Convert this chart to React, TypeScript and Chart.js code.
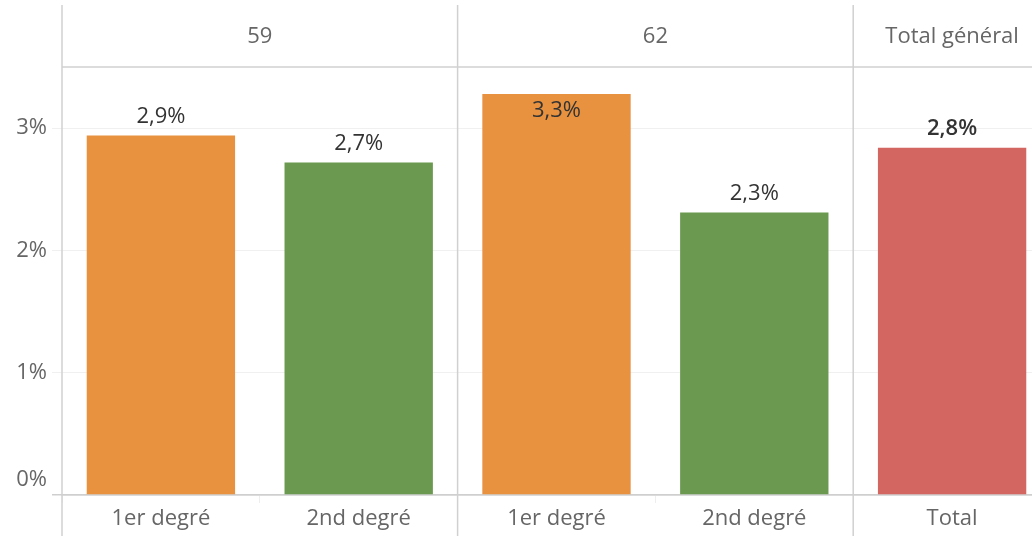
import React, { useEffect, useRef } from "react";
import { Chart, registerables } from "chart.js";

Chart.register(...registerables);

const categories = ["1er degré", "2nd degré", "1er degré", "2nd degré", "Total"];
const panels = ["59", "62", "Total général"];
const panelSizes = [2, 2, 1];
const values = [2.94, 2.72, 3.28, 2.31, 2.84];
const valueLabels = ["2,9%", "2,7%", "3,3%", "2,3%", "2,8%"];
const barColors = ["#E89240", "#6A994F", "#E89240", "#6A994F", "#D46661"];
const yTicks = [0, 1, 2, 3];
const yTickLabels = ["0%", "1%", "2%", "3%"];

const FONT = "'Open Sans', 'DejaVu Sans', sans-serif";
const FS = 22;

export default function App() {
  const ref = useRef<HTMLCanvasElement | null>(null);

  useEffect(() => {
    document.body.style.margin = "0";
    const canvas = ref.current;
    if (!canvas) return;

    const panelPlugin = {
      id: "panelPlugin",
      afterDraw(chart: any) {
        const { ctx, chartArea } = chart;
        const xs = chart.scales.x;
        const ys = chart.scales.y;
        const meta = chart.getDatasetMeta(0);
        const W = chart.width;
        const H = chart.height;
        const half = (xs.getPixelForValue(1) - xs.getPixelForValue(0)) / 2;
        ctx.save();
        // vertical axis line
        ctx.strokeStyle = "#d0d0d0";
        ctx.lineWidth = 1.5;
        ctx.beginPath();
        ctx.moveTo(chartArea.left, 5);
        ctx.lineTo(chartArea.left, H);
        ctx.stroke();
        // header bottom line
        ctx.beginPath();
        ctx.moveTo(chartArea.left, chartArea.top);
        ctx.lineTo(W, chartArea.top);
        ctx.stroke();
        // y tick labels
        ctx.font = `${FS}px ${FONT}`;
        ctx.fillStyle = "#666666";
        ctx.textAlign = "right";
        ctx.textBaseline = "middle";
        yTicks.forEach((v, i) => {
          let y = ys.getPixelForValue(v);
          if (v === 0) y -= 15;
          ctx.fillText(yTickLabels[i], chartArea.left - 15, y);
        });
        // panels
        let idx = 0;
        ctx.textAlign = "center";
        panels.forEach((p, i) => {
          const start = xs.getPixelForValue(idx) - half;
          const end = xs.getPixelForValue(idx + panelSizes[i] - 1) + half;
          ctx.fillText(p, (start + end) / 2, 37);
          if (i < panels.length - 1) {
            ctx.beginPath();
            ctx.moveTo(end, 5);
            ctx.lineTo(end, H);
            ctx.stroke();
          }
          idx += panelSizes[i];
        });
        // data labels
        ctx.fillStyle = "#333333";
        meta.data.forEach((bar: any, i: number) => {
          ctx.font = i === values.length - 1 ? `600 ${FS}px ${FONT}` : `${FS}px ${FONT}`;
          let y = bar.y - 19;
          if (y < chartArea.top + 30) y = bar.y + 17;
          ctx.fillText(valueLabels[i], bar.x, y);
        });
        ctx.restore();
      },
    };

    const chart = new Chart(canvas, {
      type: "bar",
      data: {
        labels: categories,
        datasets: [
          {
            data: values,
            backgroundColor: barColors,
            categoryPercentage: 0.75,
            barPercentage: 1,
          },
        ],
      },
      options: {
        animation: false,
        responsive: true,
        maintainAspectRatio: false,
        layout: { padding: { top: 67, right: 0, left: 0, bottom: 0 } },
        plugins: {
          legend: { display: false },
          tooltip: { enabled: false },
        },
        scales: {
          x: {
            grid: {
              display: true,
              drawOnChartArea: false,
              offset: true,
              tickLength: 8,
              color: "#eeeeee",
            },
            border: { display: true, color: "#cfcfcf", width: 1.5 },
            ticks: {
              color: "#666666",
              font: { family: FONT, size: FS },
              padding: 3,
            },
            afterFit: (scale: any) => {
              scale.height = 41;
            },
          },
          y: {
            min: 0,
            max: 3.5,
            afterBuildTicks: (scale: any) => {
              scale.ticks = yTicks.map((v) => ({ value: v }));
            },
            grid: {
              color: (c: any) => (c.tick && c.tick.value === 0 ? "#cfcfcf" : "#f0f0f0"),
              lineWidth: (c: any) => (c.tick && c.tick.value === 0 ? 1.5 : 1),
              tickLength: 10,
            },
            border: { display: false },
            ticks: {
              display: false,
            },
            afterFit: (scale: any) => {
              scale.width = 62;
            },
          },
        },
      },
      plugins: [panelPlugin],
    });

    return () => chart.destroy();
  }, []);

  return (
    <div
      style={{
        position: "fixed",
        left: 0,
        top: 0,
        width: 1032,
        height: 536,
        overflow: "hidden",
        background: "#ffffff",
      }}
    >
      <div style={{ width: 1051, height: 536, position: "relative" }}>
        <canvas ref={ref} />
      </div>
    </div>
  );
}
